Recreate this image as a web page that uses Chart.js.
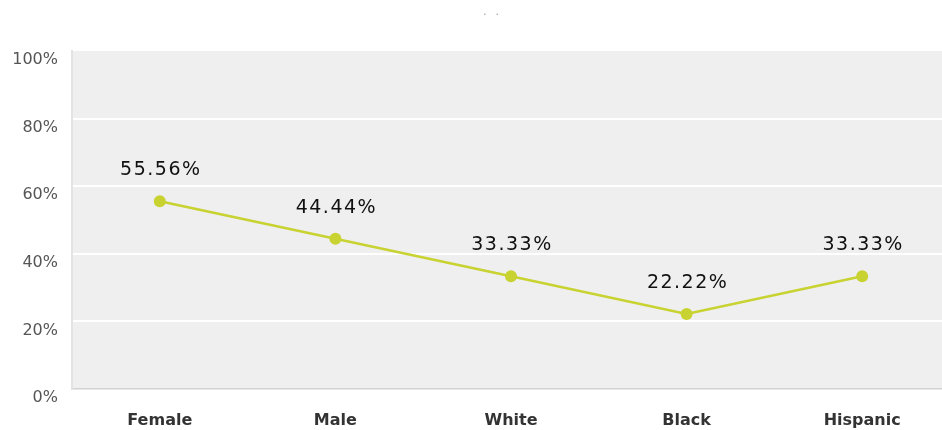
<!DOCTYPE html>
<html>
<head>
<meta charset="utf-8">
<script src="https://cdn.jsdelivr.net/npm/chart.js@4/dist/chart.umd.min.js"></script>
<style>
  html, body { margin: 0; padding: 0; background: #fff; overflow: hidden; }
  #wrap { width: 956px; height: 430px; }
</style>
</head>
<body>
<div id="wrap"><canvas id="c" width="956" height="430"></canvas></div>
<script>
// Share of respondents by group
const categories = ['Female', 'Male', 'White', 'Black', 'Hispanic'];
const shares = [55.56, 44.44, 33.33, 22.22, 33.33];
const yTicks = [0, 20, 40, 60, 80, 100];
const chartTitle = '.  .';

const LINE = '#c8d230';

// grey plot panel behind the grid
const panelBg = {
  id: 'panelBg',
  beforeDraw(chart) {
    const { ctx, chartArea: a } = chart;
    ctx.save();
    ctx.fillStyle = '#efefef';
    ctx.fillRect(a.left, a.top, a.right - a.left, a.bottom - a.top);
    ctx.restore();
  }
};

// small title and value labels above each point
const labels = {
  id: 'labels',
  afterDraw(chart) {
    const ctx = chart.ctx;
    ctx.save();
    ctx.fillStyle = '#b0b0b0';
    ctx.font = '13px "DejaVu Sans"';
    ctx.textAlign = 'center';
    ctx.textBaseline = 'middle';
    ctx.fillText(chartTitle, 491, 12);

    ctx.fillStyle = '#111111';
    ctx.font = '19px "DejaVu Sans"';
    ctx.letterSpacing = '1.5px';
    const meta = chart.getDatasetMeta(0);
    meta.data.forEach((pt, i) => {
      ctx.fillText(shares[i].toFixed(2) + '%', pt.x + 1, pt.y - 31);
    });
    ctx.restore();
  }
};

new Chart(document.getElementById('c'), {
  type: 'line',
  data: {
    labels: categories,
    datasets: [{
      data: shares,
      borderColor: LINE,
      backgroundColor: LINE,
      borderWidth: 2.5,
      pointRadius: 6,
      pointHoverRadius: 6,
      pointBackgroundColor: LINE,
      pointBorderWidth: 0,
      tension: 0
    }]
  },
  options: {
    responsive: false,
    animation: false,
    layout: { padding: { top: 51, left: 0, right: 0, bottom: 2 } },
    plugins: {
      legend: { display: false },
      title: { display: false },
      tooltip: { enabled: false }
    },
    scales: {
      x: {
        offset: true,
        afterFit(scale) { scale.height = 39; },
        grid: { display: false, drawTicks: false },
        border: { display: true, color: '#d2d2d2', width: 1.5 },
        ticks: {
          padding: 22,
          color: '#333333',
          font: { family: '"DejaVu Sans"', size: 16, weight: 'bold' }
        }
      },
      y: {
        min: 0,
        max: 100,
        afterBuildTicks(scale) { scale.ticks = yTicks.map(v => ({ value: v })); },
        afterFit(scale) { scale.width = 72; },
        grid: {
          drawTicks: false,
          lineWidth: 2,
          color: ctx => (ctx.tick && (ctx.tick.value === 0 || ctx.tick.value === 100)) ? 'rgba(0,0,0,0)' : '#ffffff'
        },
        border: { display: true, color: '#e3e3e3', width: 2 },
        ticks: {
          padding: 14,
          labelOffset: 9,
          color: '#555555',
          font: { family: '"DejaVu Sans"', size: 16 },
          callback: v => v + '%'
        }
      }
    }
  },
  plugins: [panelBg, labels]
});
</script>
</body>
</html>
